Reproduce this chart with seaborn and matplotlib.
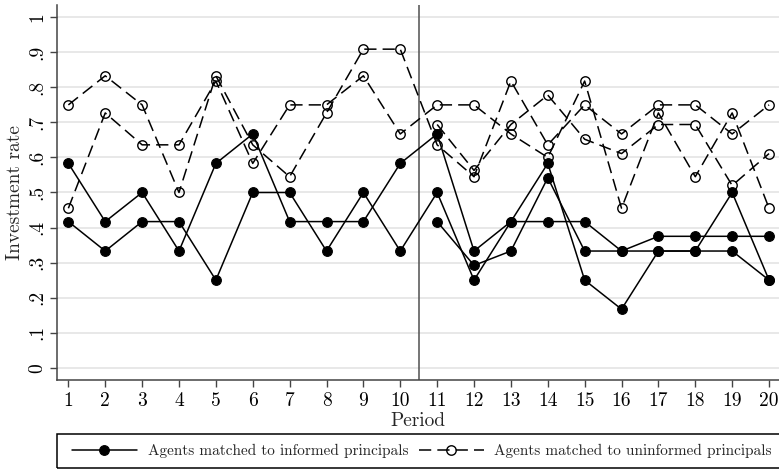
import numpy as np
import pandas as pd
import matplotlib
matplotlib.use("Agg")
import matplotlib.pyplot as plt
from matplotlib.lines import Line2D
from matplotlib.patches import Rectangle
import seaborn as sns

nan = np.nan
periods = list(range(1, 21))

# Agents matched to informed principals (three groups; third only in periods 11-20)
informed_a = [.583, .417, .5, .333, .583, .667, .417, .417, .417, .583,
              .667, .333, .417, .583, .25, .167, .333, .333, .5, .25]
informed_b = [.417, .333, .417, .417, .25, .5, .5, .333, .5, .333,
              .5, .25, .417, .417, .417, .333, .375, .375, .375, .375]
informed_c = [nan, nan, nan, nan, nan, nan, nan, nan, nan, nan,
              .417, .292, .333, .542, .333, .333, .333, .333, .333, .25]

# Agents matched to uninformed principals
uninformed_a = [.75, .833, .75, .5, .833, .636, .545, .727, .909, .909,
                .636, .545, .818, .636, .75, .667, .75, .75, .667, .75]
uninformed_b = [.455, .727, .636, .636, .818, .583, .75, .75, .833, .667,
                .75, .75, .667, .6, .818, .455, .727, .545, .727, .455]
uninformed_c = [nan, nan, nan, nan, nan, nan, nan, nan, nan, nan,
                .694, .563, .694, .778, .652, .611, .694, .694, .52, .611]

ytick_values = [0, .1, .2, .3, .4, .5, .6, .7, .8, .9, 1]
ytick_labels = ["0", ".1", ".2", ".3", ".4", ".5", ".6", ".7", ".8", ".9", "1"]
legend_labels = ["Agents matched to informed principals",
                 "Agents matched to uninformed principals"]
break_period = 10.5

rows = []
for name, grp, vals in [("inf_a", "informed", informed_a),
                        ("inf_b", "informed", informed_b),
                        ("inf_c", "informed", informed_c),
                        ("uninf_a", "uninformed", uninformed_a),
                        ("uninf_b", "uninformed", uninformed_b),
                        ("uninf_c", "uninformed", uninformed_c)]:
    for p, v in zip(periods, vals):
        rows.append({"series": name, "group": grp, "period": p, "rate": v})
df = pd.DataFrame(rows).dropna()

sns.set_theme(style="white")
plt.rcParams["font.family"] = ["cmr10", "DejaVu Serif"]
plt.rcParams["axes.formatter.use_mathtext"] = True

W, H = 779, 469
fig = plt.figure(figsize=(W / 100, H / 100), dpi=100)
ax = fig.add_axes([57.3 / W, 1 - 380 / H, (W - 57.3) / W, (380 - 5) / H])

solid_style = dict(color="black", linewidth=1.1, marker="o", markersize=7,
                   markerfacecolor="black", markeredgecolor="black",
                   markeredgewidth=0.8, linestyle="-")
dash_style = dict(color="black", linewidth=1.1, marker="o", markersize=6.8,
                  markerfacecolor="none", markeredgecolor="black",
                  markeredgewidth=1.0, linestyle=(0, (8, 4)))

for name in ["inf_a", "inf_b", "inf_c"]:
    sub = df[df.series == name]
    sns.lineplot(data=sub, x="period", y="rate", ax=ax, estimator=None,
                 sort=False, legend=False, zorder=3, **solid_style)
for name in ["uninf_a", "uninf_b", "uninf_c"]:
    sub = df[df.series == name]
    sns.lineplot(data=sub, x="period", y="rate", ax=ax, estimator=None,
                 sort=False, legend=False, zorder=3, **dash_style)

ax.axvline(break_period, color="#505050", linewidth=1.1, zorder=2)

ax.set_xlim(0.70, 20.27)
ax.set_ylim(-0.035, 1.035)
ax.set_xticks(periods)
ax.set_xticklabels([str(p) for p in periods])
ax.set_yticks(ytick_values)
ax.set_yticklabels(ytick_labels, rotation=90, va="center")

ax.yaxis.grid(True, color="#e6e6e6", linewidth=1.3, zorder=0)
ax.xaxis.grid(False)
ax.set_axisbelow(True)
for s in ["top", "right"]:
    ax.spines[s].set_visible(False)
for s in ["left", "bottom"]:
    ax.spines[s].set_color("#444444")
    ax.spines[s].set_linewidth(1.1)
ax.tick_params(axis="both", direction="out", length=5, width=1.0,
               color="#444444", labelsize=14, labelcolor="black")
ax.tick_params(axis="x", pad=4, bottom=True)
ax.tick_params(axis="y", pad=3, left=True)

ax.set_xlabel("Period", fontsize=14, labelpad=1)
ax.set_ylabel("Investment rate", fontsize=14, labelpad=3)

# legend frame
fig.patches.append(Rectangle((57.3 / W, 1 - 468 / H), (W - 57.3 + 10) / W, 34 / H,
                             transform=fig.transFigure, fill=False,
                             edgecolor="black", linewidth=1.1))
handles = [Line2D([], [], **solid_style), Line2D([], [], **dash_style)]
leg = fig.legend(handles, legend_labels, ncol=2, mode="expand",
                 loc="center", bbox_to_anchor=(72 / W, 1 - 468 / H,
                                               (772 - 72) / W, 34 / H),
                 fontsize=11, frameon=False, handlelength=4.25,
                 handletextpad=0.72, numpoints=1, borderaxespad=0,
                 borderpad=0, columnspacing=1.0)

fig.savefig("out.png", dpi=100, facecolor="white")
